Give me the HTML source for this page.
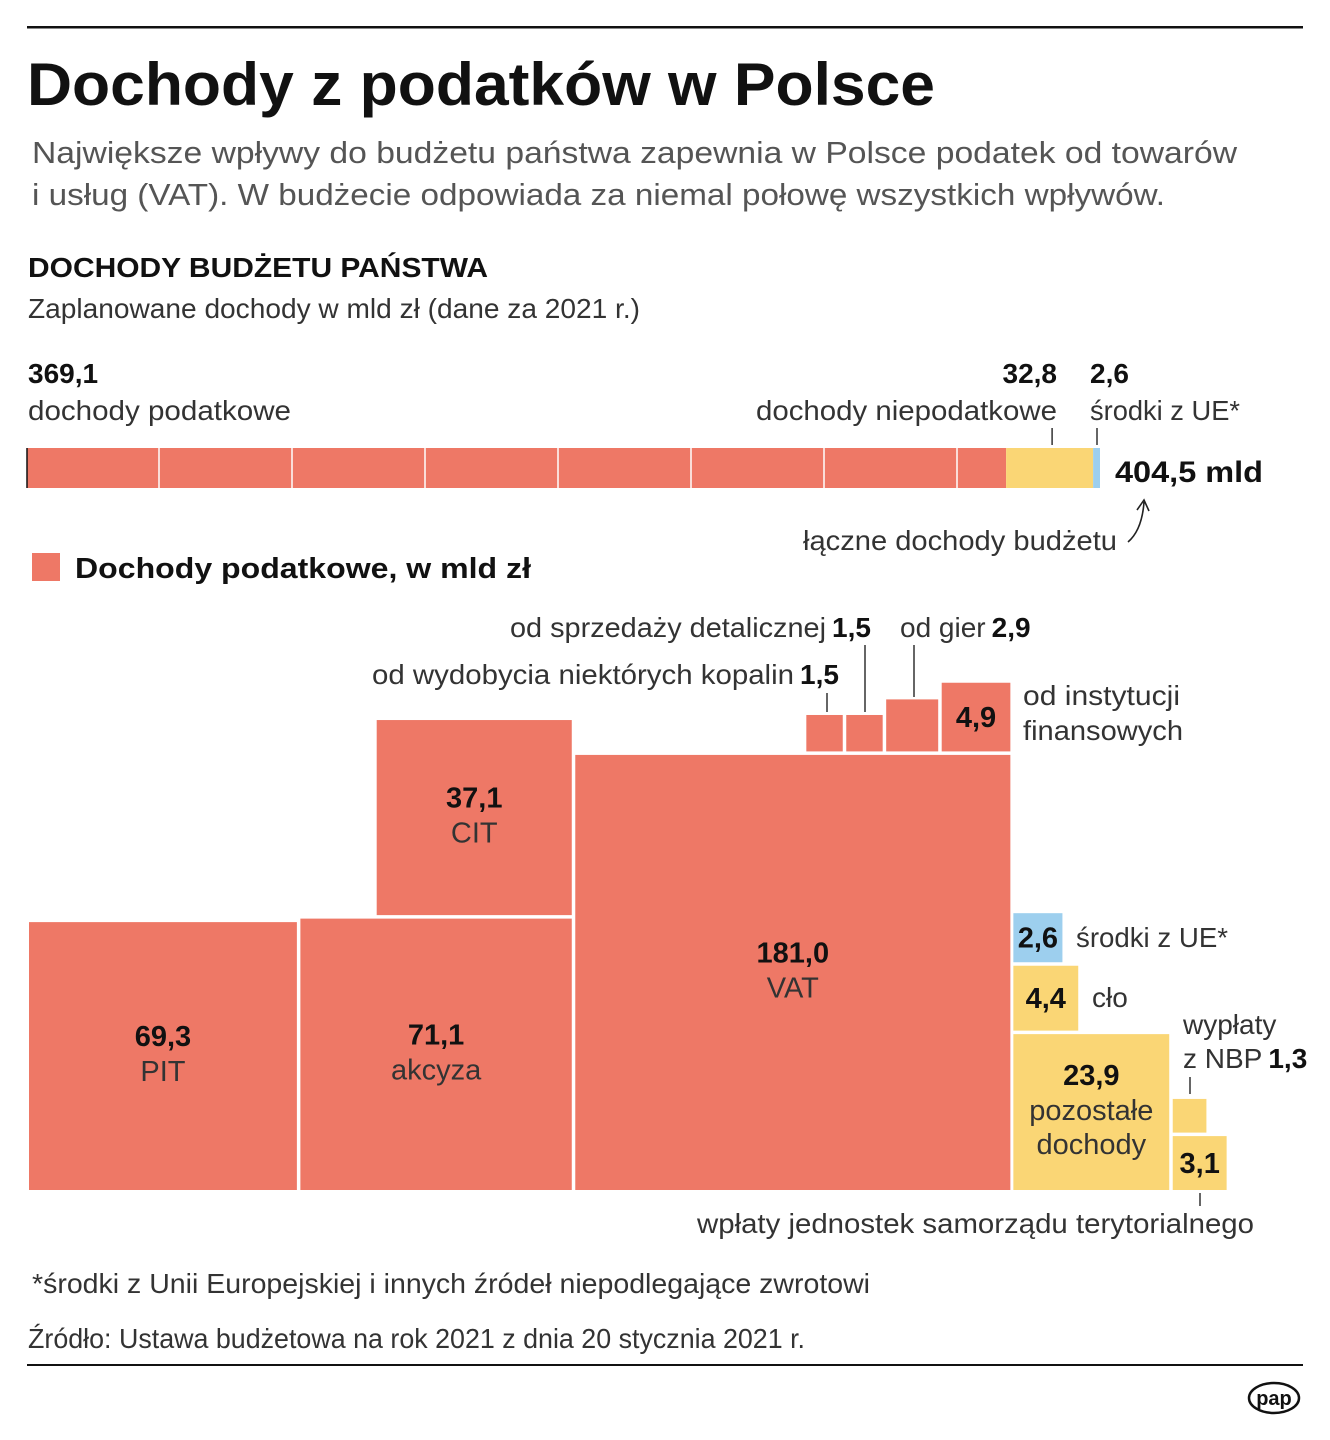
<!DOCTYPE html>
<html lang="pl">
<head>
<meta charset="utf-8">
<title>Dochody z podatków w Polsce</title>
<style>
html,body{margin:0;padding:0;background:#fff;}
svg{display:block;font-family:"Liberation Sans",sans-serif;}
.b{font-weight:bold;fill:#111;}
.r{fill:#333;}
.g{fill:#555;}
</style>
</head>
<body>
<svg id="s" width="1330" height="1440" viewBox="0 0 1330 1440" xmlns="http://www.w3.org/2000/svg">
  <rect x="27" y="26" width="1276" height="2.5" fill="#111"/>
  <text x="27" y="105" font-size="60" class="b" textLength="908" lengthAdjust="spacingAndGlyphs">Dochody z podatków w Polsce</text>
  <text x="32" y="163" font-size="31" class="g" textLength="1205" lengthAdjust="spacingAndGlyphs">Największe wpływy do budżetu państwa zapewnia w Polsce podatek od towarów</text>
  <text x="32" y="205" font-size="31" class="g" textLength="1133" lengthAdjust="spacingAndGlyphs">i usług (VAT). W budżecie odpowiada za niemal połowę wszystkich wpływów.</text>
  <text x="28" y="277" font-size="28" class="b" textLength="460" lengthAdjust="spacingAndGlyphs">DOCHODY BUDŻETU PAŃSTWA</text>
  <text x="28" y="318" font-size="28" class="r" textLength="612" lengthAdjust="spacingAndGlyphs">Zaplanowane dochody w mld zł (dane za 2021 r.)</text>

  <g id="bar"></g>
  <text x="1115" y="482" font-size="30" class="b" textLength="148" lengthAdjust="spacingAndGlyphs">404,5 mld</text>
  <text x="803" y="550" font-size="28" class="r" textLength="314" lengthAdjust="spacingAndGlyphs">łączne dochody budżetu</text>
  <path d="M1128,542 Q1142,530 1144,502 M1137,510 L1144,500 L1149,511" fill="none" stroke="#222" stroke-width="1.6"/>

  <rect x="32" y="553" width="28" height="28" fill="#EE7866"/>
  <text x="75" y="578" font-size="29" class="b" textLength="456" lengthAdjust="spacingAndGlyphs">Dochody podatkowe, w mld zł</text>

  <g id="tree"></g>

  <!-- annotations -->
  <text x="510" y="637" font-size="28" class="r"><tspan textLength="316" lengthAdjust="spacingAndGlyphs">od sprzedaży detalicznej</tspan><tspan class="b" dx="6">1,5</tspan></text>
  <text x="900" y="637" font-size="28" class="r"><tspan>od gier</tspan><tspan class="b" dx="6">2,9</tspan></text>
  <text x="372" y="684" font-size="28" class="r"><tspan textLength="422" lengthAdjust="spacingAndGlyphs">od wydobycia niektórych kopalin</tspan><tspan class="b" dx="6">1,5</tspan></text>
  <text x="1023" y="705" font-size="28" class="r" textLength="157" lengthAdjust="spacingAndGlyphs">od instytucji</text>
  <text x="1023" y="740" font-size="28" class="r" textLength="160" lengthAdjust="spacingAndGlyphs">finansowych</text>
  <text x="1076" y="947" font-size="28" class="r" textLength="152" lengthAdjust="spacingAndGlyphs">środki z UE*</text>
  <text x="1092" y="1007" font-size="28" class="r">cło</text>
  <text x="1183" y="1034" font-size="28" class="r">wypłaty</text>
  <text x="1183" y="1068" font-size="28" class="r"><tspan>z NBP</tspan><tspan class="b" dx="6">1,3</tspan></text>
  <text x="697" y="1233" font-size="28" class="r" textLength="557" lengthAdjust="spacingAndGlyphs">wpłaty jednostek samorządu terytorialnego</text>
  <g stroke="#333" stroke-width="1.5">
    <line x1="865" y1="645" x2="865" y2="712"/>
    <line x1="914" y1="645" x2="914" y2="697"/>
    <line x1="827" y1="693" x2="827" y2="712"/>
    <line x1="1190" y1="1077" x2="1190" y2="1094"/>
    <line x1="1200" y1="1193" x2="1200" y2="1206"/>
  </g>

  <text x="32" y="1293" font-size="28" class="r" textLength="838" lengthAdjust="spacingAndGlyphs">*środki z Unii Europejskiej i innych źródeł niepodlegające zwrotowi</text>
  <text x="28" y="1348" font-size="28" class="r" textLength="777" lengthAdjust="spacingAndGlyphs">Źródło: Ustawa budżetowa na rok 2021 z dnia 20 stycznia 2021 r.</text>
  <rect x="27" y="1364" width="1276" height="2" fill="#111"/>
  <g>
    <ellipse cx="1274" cy="1398" rx="25" ry="15" fill="#fff" stroke="#111" stroke-width="2.5"/>
    <text x="1274" y="1405" font-size="20" class="b" text-anchor="middle">pap</text>
  </g>
</svg>
<script>
const barCats = ['dochody podatkowe', 'dochody niepodatkowe', 'środki z UE*'];
const barVals = [369.1, 32.8, 2.6];
const taxNames = ['PIT', 'akcyza', 'CIT', 'VAT', 'od wydobycia niektórych kopalin', 'od sprzedaży detalicznej', 'od gier', 'od instytucji finansowych'];
const taxVals = [69.3, 71.1, 37.1, 181.0, 1.5, 1.5, 2.9, 4.9];
const otherNames = ['środki z UE*', 'cło', 'pozostałe dochody', 'wypłaty z NBP', 'wpłaty jednostek samorządu terytorialnego'];
const otherVals = [2.6, 4.4, 23.9, 1.3, 3.1];

const NS = 'http://www.w3.org/2000/svg';
const RED = '#EE7866', YEL = '#FAD675', BLUE = '#9DCFEE';
function mk(tag, attrs, parent){const e=document.createElementNS(NS,tag);for(const k in attrs)e.setAttribute(k,attrs[k]);parent.appendChild(e);return e;}
function fmt(v){return v.toFixed(1).replace('.',',');}

// ---- stacked bar ----
const bar = document.getElementById('bar');
const total = barVals.reduce((a,b)=>a+b,0);
const bx0 = 27, bx1 = 1100;
function bx(v){return bx0 + v*(bx1-bx0)/total;}
const barColors = [RED, YEL, BLUE];
let acc = 0;
barVals.forEach((v,i)=>{
  const r = mk('rect',{x:bx(acc),y:448,width:bx(acc+v)-bx(acc),height:40,fill:barColors[i]},bar);
  
  
  acc += v;
});
for(let x=159;x<bx(barVals[0]);x+=133){
  const l = mk('line',{x1:x,y1:448,x2:x,y2:488,stroke:'#fff','stroke-width':1.5},bar);
  
  
}
const edge = mk('line',{x1:27,y1:448,x2:27,y2:488,stroke:'#111','stroke-width':1.5},bar);


const t0v = mk('text',{x:28,y:383,'font-size':28,class:'b'},bar); t0v.textContent=fmt(barVals[0]);


const t0n = mk('text',{x:28,y:420,'font-size':28,class:'r',textLength:263,lengthAdjust:'spacingAndGlyphs'},bar); t0n.textContent=barCats[0];


const m1 = bx(barVals[0]+barVals[1]) - 41;
const t1v = mk('text',{x:1057,y:383,'font-size':28,class:'b','text-anchor':'end'},bar); t1v.textContent=fmt(barVals[1]);


const t1n = mk('text',{x:756,y:420,'font-size':28,class:'r',textLength:301,lengthAdjust:'spacingAndGlyphs'},bar); t1n.textContent=barCats[1];


const l1 = mk('line',{x1:m1,y1:428,x2:m1,y2:445,stroke:'#333','stroke-width':1.5},bar);


const m2 = bx(total) - 3;
const t2v = mk('text',{x:1090,y:383,'font-size':28,class:'b'},bar); t2v.textContent=fmt(barVals[2]);


const t2n = mk('text',{x:1090,y:420,'font-size':28,class:'r',textLength:150,lengthAdjust:'spacingAndGlyphs'},bar); t2n.textContent=barCats[2];


const l2 = mk('line',{x1:m2,y1:428,x2:m2,y2:445,stroke:'#333','stroke-width':1.5},bar);



// ---- square treemap ----
const tree = document.getElementById('tree');
const K = 32.6, BASE = 1190, G = 3.5;
function side(v){return Math.sqrt(v)*K - 3.5;}
function sq(x,y,s,fill,name){
  const r = mk('rect',{x:x,y:y,width:s,height:s,fill:fill},tree);
  
  
  return {x:x,y:y,s:s};
}
function lab(cx,y,txt,cls,name){
  const t = mk('text',{x:cx,y:y,'font-size':29,class:cls,'text-anchor':'middle'},tree);
  t.textContent = txt;
  
  
}
const sP = side(taxVals[0]);
const pit = sq(29, BASE-sP, sP, RED, 'square-pit');
const sA = side(taxVals[1]);
const akc = sq(pit.x+sP+G, BASE-sA, sA, RED, 'square-akcyza');
const sC = side(taxVals[2]);
const cit = sq(akc.x+sA-sC, akc.y-G-sC, sC, RED, 'square-cit');
const sV = side(taxVals[3]);
const vat = sq(akc.x+sA+G, BASE-sV, sV, RED, 'square-vat');
let right = vat.x + sV;
const smallOrder = [7,6,5,4];
const smalls = {};
smallOrder.forEach(i=>{
  const s = side(taxVals[i]);
  smalls[i] = sq(right-s, vat.y-G-s, s, RED, 'square-tax-'+i);
  right -= s + G;
});
[[pit,0],[akc,1],[cit,2],[vat,3]].forEach(([b,i])=>{
  const cy = b.y + b.s/2;
  lab(b.x+b.s/2, cy-10, fmt(taxVals[i]), 'b', 'value-'+taxNames[i].toLowerCase());
  lab(b.x+b.s/2, cy+25, taxNames[i], 'r', 'name-'+taxNames[i].toLowerCase());
});
{const b = smalls[7]; lab(b.x+b.s/2, b.y+b.s/2+10, fmt(taxVals[7]), 'b', 'value-instytucje');}

const ox = vat.x + sV + 3;
const sPo = side(otherVals[2]);
const poz = sq(ox, BASE-sPo, sPo, YEL, 'square-pozostale');
const sCl = side(otherVals[1]);
const clo = sq(ox, poz.y-G-sCl, sCl, YEL, 'square-clo');
const sU = side(otherVals[0]);
const ue = sq(ox, clo.y-G-sU, sU, BLUE, 'square-ue');
const sJ = side(otherVals[4]);
const jst = sq(poz.x+sPo+G, BASE-sJ, sJ, YEL, 'square-samorzad');
const sN = side(otherVals[3]);
const nbp = sq(jst.x, jst.y-G-sN, sN, YEL, 'square-nbp');
lab(ue.x+ue.s/2, ue.y+ue.s/2+10, fmt(otherVals[0]), 'b', 'value-ue');
lab(clo.x+clo.s/2, clo.y+clo.s/2+10, fmt(otherVals[1]), 'b', 'value-clo');
lab(poz.x+poz.s/2, poz.y+51, fmt(otherVals[2]), 'b', 'value-pozostale');
lab(poz.x+poz.s/2, poz.y+86, 'pozostałe', 'r', 'name-pozostale-1');
lab(poz.x+poz.s/2, poz.y+120, 'dochody', 'r', 'name-pozostale-2');
lab(jst.x+jst.s/2, jst.y+jst.s/2+10, fmt(otherVals[4]), 'b', 'value-samorzad');
</script>
</body>
</html>
